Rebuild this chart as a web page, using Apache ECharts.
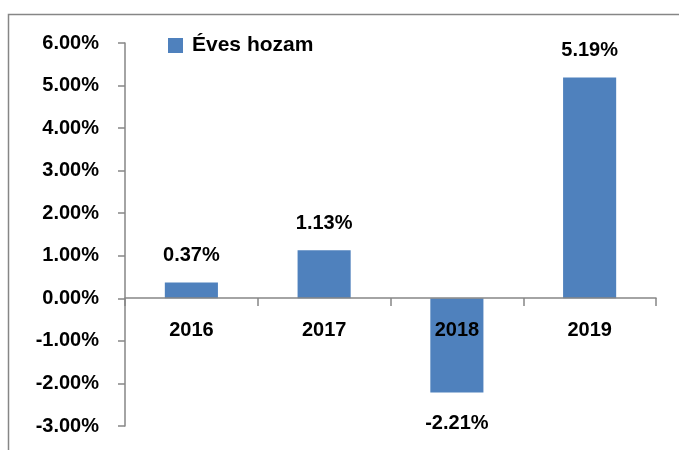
<!DOCTYPE html>
<html>
<head>
<meta charset="utf-8">
<script src="https://cdn.jsdelivr.net/npm/echarts@6/dist/echarts.min.js"></script>
<style>
  html, body { margin: 0; padding: 0; background: #fff; }
  #main { width: 679px; height: 450px; }
</style>
</head>
<body>
<div id="main"></div>
<script>
// 数据
const years = ['2016', '2017', '2018', '2019'];
const returns = [0.37, 1.13, -2.21, 5.19];
const seriesName = 'Éves hozam';

const chart = echarts.init(document.getElementById('main'));
const font = 'Liberation Sans, Arial, sans-serif';
const axisGray = '#868686';

const option = {
  animation: false,
  graphic: [{
    type: 'rect',
    shape: { x: 8.5, y: 14.5, width: 700, height: 500 },
    style: { fill: 'none', stroke: axisGray, lineWidth: 1.5 },
    silent: true
  }],
  legend: {
    left: 168,
    top: 35,
    padding: 0,
    icon: 'rect',
    itemWidth: 15,
    itemHeight: 15,
    textStyle: { fontFamily: font, fontWeight: 'bold', fontSize: 21, color: '#000', padding: [0, 0, 0, 4] },
    data: [seriesName]
  },
  grid: { left: 125, right: 23, top: 43, bottom: 24, outerBoundsMode: 'none' },
  xAxis: {
    type: 'category',
    data: years,
    position: 'bottom',
    // move the category axis up to the zero line (plot height 383px, zero at 6/9)
    offset: -128,
    axisLine: { onZero: false, lineStyle: { color: axisGray, width: 1.5 } },
    axisTick: { show: true, length: 8, lineStyle: { color: axisGray, width: 1.5 } },
    axisLabel: { margin: 22, fontFamily: font, fontWeight: 'bold', fontSize: 20, color: '#000' },
    z: 5
  },
  yAxis: {
    type: 'value',
    min: -3,
    max: 6,
    interval: 1,
    splitLine: { show: false },
    axisLine: { show: true, lineStyle: { color: axisGray, width: 1.5 } },
    axisTick: { show: true, length: 7, lineStyle: { color: axisGray, width: 1.5 } },
    axisLabel: {
      margin: 26,
      fontFamily: font, fontWeight: 'bold', fontSize: 20, color: '#000',
      formatter: v => v.toFixed(2) + '%'
    }
  },
  series: [{
    name: seriesName,
    type: 'bar',
    barWidth: '40%',
    itemStyle: { color: '#4f81bd' },
    data: returns.map(v => ({
      value: v,
      label: {
        show: true,
        position: v < 0 ? 'bottom' : 'top',
        distance: v < 0 ? 21 : 17,
        formatter: p => p.value.toFixed(2) + '%',
        fontFamily: font, fontWeight: 'bold', fontSize: 20, color: '#000'
      }
    }))
  }]
};

chart.setOption(option);
</script>
</body>
</html>
